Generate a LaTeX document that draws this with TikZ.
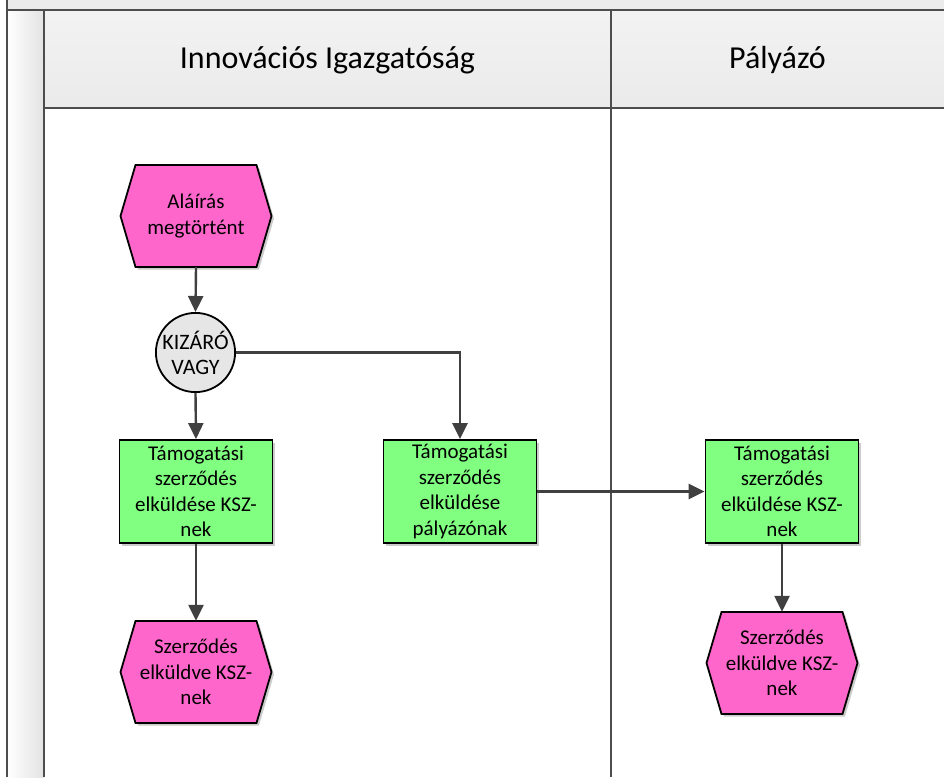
\documentclass[tikz,border=0pt]{standalone}
\usepackage{fontspec}
\setmainfont{Carlito}
\usetikzlibrary{arrows.meta,shadows,calc}
\definecolor{lanegray}{HTML}{4D4D4D}
\definecolor{linegray}{HTML}{404040}
\definecolor{pinkfill}{HTML}{FF66CC}
\definecolor{greenfill}{HTML}{80FF80}
\definecolor{circfill}{HTML}{E6E6E6}
\definecolor{topband}{HTML}{EBEBEB}
\tikzset{
  laneline/.style={draw=lanegray, line width=2.4pt},
  flow/.style={draw=linegray, line width=2.4pt, -{Triangle[width=15pt,length=16pt]}},
  txt/.style={font=\fontsize{21}{25.5}\selectfont, align=center, text=black},
  taskbox/.style={txt, rectangle, draw=black, line width=1.8pt, fill=greenfill,
     minimum width=153pt, minimum height=103pt, inner sep=0pt,
     drop shadow={shadow xshift=2.5pt, shadow yshift=-2.5pt, fill=black!20, opacity=1}},
  hexnode/.style={txt, rectangle, minimum width=151pt, minimum height=102pt, inner sep=0pt},
  hexshape/.style={draw=black, line width=1.8pt, fill=pinkfill, line join=miter},
  hexshadow/.style={fill=black!20},
  gate/.style={txt, font=\fontsize{22}{25}\selectfont, circle, draw=black, line width=1.8pt, fill=circfill,
     minimum size=79pt, inner sep=0pt},
  header/.style={font=\fontsize{32}{38}\selectfont, text=black}
}
\newcommand\hexat[4]{%
  \fill[hexshadow] (#2-75.5+2.5,#3+2.5) -- (#2-60.5+2.5,#3-51+2.5) -- (#2+60.5+2.5,#3-51+2.5)
     -- (#2+75.5+2.5,#3+2.5) -- (#2+60.5+2.5,#3+51+2.5) -- (#2-60.5+2.5,#3+51+2.5) -- cycle;
  \path[hexshape] (#2-75.5,#3) -- (#2-60.5,#3-51) -- (#2+60.5,#3-51)
     -- (#2+75.5,#3) -- (#2+60.5,#3+51) -- (#2-60.5,#3+51) -- cycle;
  \node[hexnode] (#1) at (#2,#3) {#4};
}
\begin{document}
\begin{tikzpicture}[x=1pt,y=-1pt]
\useasboundingbox (0,0) rectangle (944,777);
% backgrounds of the pool
\fill[topband] (7,0) rectangle (944,10);
\shade[left color=white, right color=black!11] (7,10) rectangle (44,777);
\shade[top color=black!5, middle color=black!2, bottom color=black!8] (44,10) rectangle (944,108);
% lane lines
\draw[laneline] (7,0) -- (7,777);
\draw[laneline] (7,10) -- (944,10);
\draw[laneline] (44,10) -- (44,777);
\draw[laneline] (44,108) -- (944,108);
\draw[laneline] (611,10) -- (611,777);
% headers
\node[header] (hdr1) at (327.5,60) {Innovációs Igazgatóság};
\node[header] (hdr2) at (777.5,60) {Pályázó};
% nodes
\hexat{h1}{196}{216}{Aláírás\\megtörtént}
\node[gate] (g) at (195.5,352.5) {KIZÁRÓ\\VAGY};
\node[taskbox] (b1) at (196,491.5) {Támogatási\\szerződés\\elküldése KSZ-\\nek};
\node[taskbox] (b2) at (460,491.5) {Támogatási\\szerződés\\elküldése\\pályázónak};
\node[taskbox] (b3) at (782,491.5) {Támogatási\\szerződés\\elküldése KSZ-\\nek};
\hexat{h2}{196}{672}{Szerződés\\elküldve KSZ-\\nek}
\hexat{h3}{782}{663}{Szerződés\\elküldve KSZ-\\nek}
% connectors
\draw[flow] (h1.south) -- (g.north);
\draw[flow] (g.south) -- (b1.north);
\draw[flow] (g.east) -| (b2.north);
\draw[flow] (b2.east) -- (b3.west);
\draw[flow] (b1.south) -- (h2.north);
\draw[flow] (b3.south) -- (h3.north);
\end{tikzpicture}
\end{document}
